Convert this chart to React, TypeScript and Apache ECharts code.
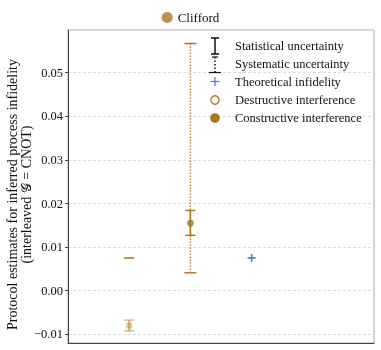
import React, { useEffect, useRef } from "react";
import * as echarts from "echarts";

// ---- data ----
const constructivePoints = [[2, 0.0155]];
const statBars = [[2, 0.0127, 0.0184]];
const sysBars = [[2, 0.0041, 0.0567]];
const destructivePoints = [[1, -0.008]];
const destructiveBars = [[1, -0.0092, -0.00675]];
const dashMarks = [[1, 0.0075]];
const theoretical = [[3, 0.0075]];
const legendItems = [
  "Statistical uncertainty",
  "Systematic uncertainty",
  "Theoretical infidelity",
  "Destructive interference",
  "Constructive interference",
];

const GOLD = "#a8781f";
const GOLD_LIGHT = "rgba(168,120,31,0.5)";
const BLUE = "#4a7dbd";
const FONT = "'Liberation Serif', 'Times New Roman', serif";

function errorBar(color: string, lineWidth: number, dash: any, capHalf: number) {
  return (params: any, api: any) => {
    const x = api.value(0);
    const lo = api.coord([x, api.value(1)]);
    const hi = api.coord([x, api.value(2)]);
    return {
      type: "group",
      children: [
        {
          type: "line",
          shape: { x1: lo[0], y1: lo[1], x2: hi[0], y2: hi[1] },
          style: { stroke: color, lineWidth, lineDash: dash },
        },
        {
          type: "line",
          shape: { x1: lo[0] - capHalf, y1: lo[1], x2: lo[0] + capHalf, y2: lo[1] },
          style: { stroke: color, lineWidth: 1.5 },
        },
        {
          type: "line",
          shape: { x1: hi[0] - capHalf, y1: hi[1], x2: hi[0] + capHalf, y2: hi[1] },
          style: { stroke: color, lineWidth: 1.5 },
        },
      ],
    };
  };
}

export default function App() {
  const ref = useRef<HTMLDivElement>(null);
  useEffect(() => {
    const chart = echarts.init(ref.current!, null, { renderer: "svg" });
    const lx = 215;
    const tx = 235;
    const rows = [46, 64, 82, 100, 118];
    const glyphs: any[] = [
      // statistical I-bar
      { type: "line", shape: { x1: lx, y1: 38, x2: lx, y2: 54 }, style: { stroke: "#111", lineWidth: 1.5 } },
      { type: "line", shape: { x1: lx - 4, y1: 38, x2: lx + 4, y2: 38 }, style: { stroke: "#111", lineWidth: 1.5 } },
      { type: "line", shape: { x1: lx - 4, y1: 54, x2: lx + 4, y2: 54 }, style: { stroke: "#111", lineWidth: 1.5 } },
      // systematic dotted bar
      { type: "line", shape: { x1: lx, y1: 57, x2: lx, y2: 72 }, style: { stroke: "#111", lineWidth: 1.5, lineDash: [1.5, 2] } },
      { type: "line", shape: { x1: lx - 3, y1: 57, x2: lx + 3, y2: 57 }, style: { stroke: "#111", lineWidth: 1.2 } },
      { type: "line", shape: { x1: lx - 6, y1: 72.5, x2: lx + 6, y2: 72.5 }, style: { stroke: "#111", lineWidth: 1.2 } },
      // theoretical plus
      { type: "line", shape: { x1: lx - 4.5, y1: 81.5, x2: lx + 4.5, y2: 81.5 }, style: { stroke: BLUE, lineWidth: 1.2 } },
      { type: "line", shape: { x1: lx, y1: 77, x2: lx, y2: 86 }, style: { stroke: BLUE, lineWidth: 1.2 } },
      // destructive hollow
      { type: "circle", shape: { cx: lx, cy: 100, r: 4.2 }, style: { fill: "#fff", stroke: GOLD, lineWidth: 1.3 } },
      // constructive filled
      { type: "circle", shape: { cx: lx, cy: 118, r: 4.8 }, style: { fill: GOLD } },
    ];
    const graphic: any[] = glyphs.map((g) => ({ ...g, z: 20 }));
    legendItems.forEach((t, i) => {
      graphic.push({
        type: "text",
        x: tx,
        y: rows[i],
        z: 20,
        style: { text: t, fill: "#111", font: `12.5px ${FONT}`, verticalAlign: "middle", textAlign: "left" },
      });
    });

    chart.setOption({
      animation: false,
      textStyle: { fontFamily: FONT },
      grid: {
        left: 68,
        right: 7,
        top: 30,
        bottom: 7,
        show: true,
        borderColor: "#aaa",
        borderWidth: 1,
        containLabel: false,
        outerBoundsMode: "none",
      },
      legend: {
        data: [{ name: "Clifford", icon: "circle" }],
        top: 6,
        left: "center",
        itemWidth: 11,
        itemHeight: 11,
        textStyle: { fontFamily: FONT, fontSize: 13, color: "#111" },
      },
      graphic,
      xAxis: {
        type: "value",
        min: 0,
        max: 5,
        axisLine: { show: true, onZero: false, lineStyle: { color: "#444", width: 1 } },
        axisTick: { show: false },
        axisLabel: { show: false },
        splitLine: { show: false },
      },
      yAxis: {
        type: "value",
        min: -0.012,
        max: 0.0598,
        splitNumber: 7,
        name: "Protocol estimates for inferred process infidelity\n(interleaved 𝒢 = CNOT)",
        nameLocation: "middle",
        nameGap: 35,
        nameMoveOverlap: false,
        nameTextStyle: {
          fontFamily: FONT,
          fontSize: 14,
          color: "#111",
          lineHeight: 14,
          padding: [0, 16, 0, 0],
        },
        axisLine: { show: true, onZero: false, lineStyle: { color: "#444", width: 1 } },
        axisTick: { show: true, length: 3, lineStyle: { color: "#444" } },
        axisLabel: {
          showMinLabel: false,
          showMaxLabel: false,
          fontFamily: FONT,
          fontSize: 12.5,
          color: "#111",
          margin: 5,
          formatter: (v: number) => v.toFixed(2).replace("-", "\u2212"),
        },
        splitLine: { show: true, lineStyle: { color: "#ddd", type: [3, 2], width: 1 } },
      },
      series: [
        {
          type: "custom",
          name: "sys",
          data: sysBars,
          encode: { x: 0, y: [1, 2] },
          renderItem: errorBar(GOLD, 1.5, [1.2, 1.8], 6),
          z: 2,
        },
        {
          type: "custom",
          name: "stat",
          data: statBars,
          encode: { x: 0, y: [1, 2] },
          renderItem: errorBar(GOLD, 1.5, null, 5),
          z: 3,
        },
        {
          type: "custom",
          name: "destructiveBars",
          data: destructiveBars,
          encode: { x: 0, y: [1, 2] },
          renderItem: errorBar(GOLD_LIGHT, 2, null, 5),
          z: 3,
        },
        {
          type: "scatter",
          name: "destructive",
          data: destructivePoints,
          symbol: "rect",
          symbolSize: 6,
          itemStyle: { color: GOLD_LIGHT },
          z: 4,
        },
        {
          type: "custom",
          name: "dash",
          data: dashMarks,
          encode: { x: 0, y: 1 },
          renderItem: (params: any, api: any) => {
            const p = api.coord([api.value(0), api.value(1)]);
            return {
              type: "line",
              shape: { x1: p[0] - 5, y1: p[1], x2: p[0] + 5, y2: p[1] },
              style: { stroke: GOLD, lineWidth: 1.6 },
            };
          },
        },
        {
          type: "custom",
          name: "theoretical",
          data: theoretical,
          encode: { x: 0, y: 1 },
          renderItem: (params: any, api: any) => {
            const p = api.coord([api.value(0), api.value(1)]);
            return {
              type: "group",
              children: [
                { type: "line", shape: { x1: p[0] - 4, y1: p[1], x2: p[0] + 4, y2: p[1] }, style: { stroke: BLUE, lineWidth: 1.6 } },
                { type: "line", shape: { x1: p[0], y1: p[1] - 4, x2: p[0], y2: p[1] + 4 }, style: { stroke: BLUE, lineWidth: 1.6 } },
              ],
            };
          },
        },
        {
          type: "scatter",
          name: "Clifford",
          data: constructivePoints,
          symbol: "circle",
          symbolSize: 7,
          itemStyle: { color: GOLD },
          z: 5,
        },
      ],
    });
    return () => chart.dispose();
  }, []);
  return (
    <div
      ref={ref}
      style={{ position: "fixed", left: 0, top: 0, width: 381, height: 350 }}
    />
  );
}
